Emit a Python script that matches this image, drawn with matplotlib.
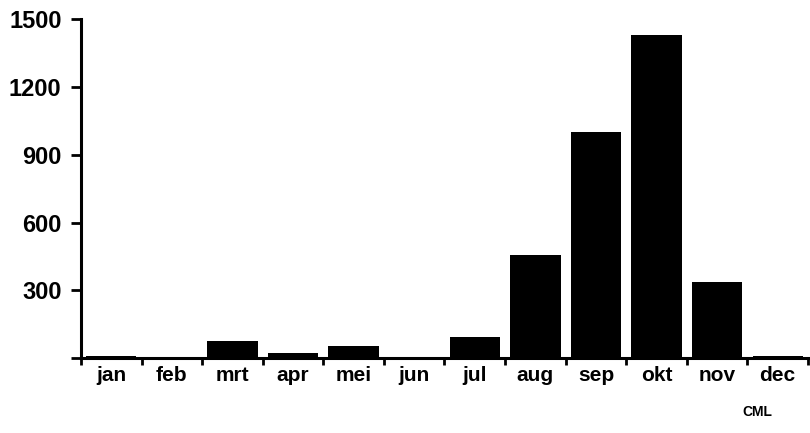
import numpy as np
import matplotlib.pyplot as plt

months = ['jan', 'feb', 'mrt', 'apr', 'mei', 'jun',
          'jul', 'aug', 'sep', 'okt', 'nov', 'dec']
values = [10, 3, 75, 22, 52, 2, 92, 456, 1000, 1432, 336, 10]
y_ticks = [0, 300, 600, 900, 1200, 1500]
y_labels = ['', '300', '600', '900', '1200', '1500']

plt.rcParams['font.family'] = ['Liberation Sans', 'DejaVu Sans']

fig = plt.figure(figsize=(8.1, 4.33), dpi=100)
ax = fig.add_axes([0.1, 0.173, 0.8975, 0.782])

x = np.arange(len(months))
ax.bar(x, values, width=0.83, color='black')

ax.set_xlim(-0.5, len(months) - 0.5)
ax.set_ylim(0, 1500)

ax.set_yticks(y_ticks)
ax.set_yticklabels(y_labels, fontsize=17, fontweight='bold')
ax.tick_params(axis='y', direction='out', length=7, width=2, pad=7)

ax.set_xticks(x)
ax.set_xticklabels(months, fontsize=15, fontweight='bold')
ax.tick_params(axis='x', which='major', length=0, pad=6)
ax.set_xticks(np.arange(-0.5, len(months)), minor=True)
ax.tick_params(axis='x', which='minor', direction='out', length=5, width=2)

for side in ['top', 'right']:
    ax.spines[side].set_visible(False)
for side in ['left', 'bottom']:
    ax.spines[side].set_linewidth(2.2)

fig.text(0.935, 0.04, 'CML', fontsize=10, fontweight='bold', ha='center')

fig.savefig('out.png', dpi=100)
